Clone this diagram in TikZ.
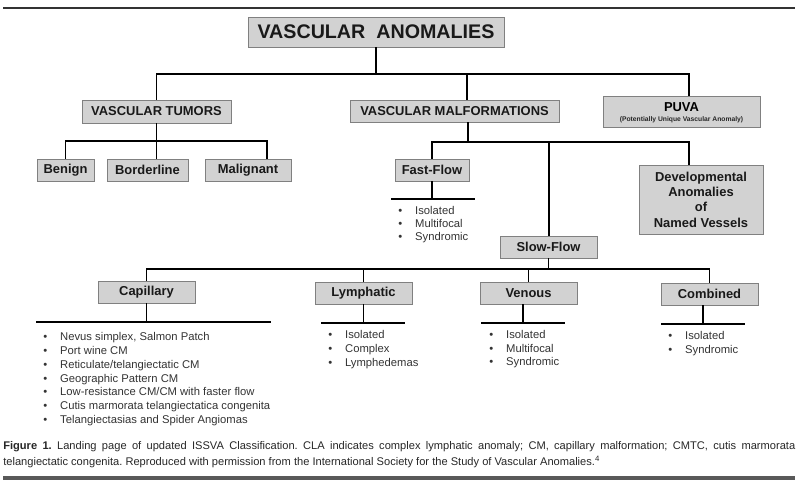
\documentclass[tikz,border=0pt]{standalone}
\usepackage{fontspec}
\setmainfont{Liberation Sans}
\usetikzlibrary{positioning}

\newcommand\itm[1]{\makebox[12pt][l]{\textbullet}#1}

\begin{document}
\begin{tikzpicture}[x=0.25mm, y=-0.25mm,
    box/.style={draw=gray, fill=gray!35, line width=0.7pt, inner sep=0pt,
      minimum width=24.25mm, minimum height=5.5mm, text=black!90,
      font=\bfseries\fontsize{9.2}{11}\selectfont},
    link/.style={line width=1.3pt},
    item/.style={anchor=base west, inner sep=0pt, text=black!80,
      font=\fontsize{8}{9.7}\selectfont}]

    \useasboundingbox (0,0) rectangle (800,485);
    \draw[line width=0.8pt, black!80] (3,8) -- (795,8);

    % Top level
    \node at (376,32) [box, minimum width=64mm, minimum height=7.5mm,
      font=\bfseries\fontsize{14}{17}\selectfont] (root) {VASCULAR\ \ ANOMALIES};
    \node at (156.5,111.5) [box, minimum width=37.25mm, minimum height=5.75mm] (tumors) {VASCULAR TUMORS};
    \node at (454.5,111) [box, minimum width=52.25mm] (malf) {VASCULAR MALFORMATIONS};
    \node at (681.5,111.5) [box, minimum width=39.25mm, minimum height=7.75mm] (puva) {};
    \node at (681.5,107) [font=\bfseries\fontsize{9.2}{11}\selectfont] (puvat) {PUVA};
    \node at (681.5,119.5) [font=\bfseries\fontsize{4.8}{6}\selectfont, text=black!85] (puvas) {(Potentially Unique Vascular Anomaly)};
    \coordinate (r1) at (156.5,74);
    \coordinate (r2) at (467,74);
    \coordinate (r3) at (689,74);
    \draw[link] (root.south) -- (root.south |- r1);
    \draw[link] (r1 |- tumors.north) -- (r1) -- (r3) -- (r3 |- puva.north);
    \draw[link] (r2) -- (r2 |- malf.north);

    % Tumors
    \node at (65.5,170) [box, minimum width=14.25mm] (benign) {Benign};
    \node at (147.5,170) [box, minimum width=20.25mm] (borderline) {Borderline};
    \node at (248,170) [box, minimum width=21.5mm] (malignant) {Malignant};
    \coordinate (t1) at (65.5,141);
    \coordinate (t2) at (156.5,141);
    \coordinate (t3) at (267,141);
    \draw[link] (tumors.south) -- (t2);
    \draw[link] (t1 |- benign.north) -- (t1) -- (t3) -- (t3 |- malignant.north);
    \draw[link] (t2) -- (t2 |- borderline.north);

    % Malformations
    \node at (432,170) [box, minimum width=18.5mm] (fast) {Fast-Flow};
    \node at (701,199.5) [box, minimum width=31mm, minimum height=17.25mm, align=center,
      font=\bfseries\fontsize{9.2}{10.9}\selectfont] (dev) {Developmental\\Anomalies\\of\\Named Vessels};
    \node at (548.5,247) [box] (slow) {Slow-Flow};
    \coordinate (m1) at (432,142);
    \coordinate (m2) at (468,142);
    \coordinate (m3) at (549,142);
    \coordinate (m4) at (689,142);
    \draw[link] (m2 |- malf.south) -- (m2);
    \draw[link] (fast.north) -- (m1) -- (m4) -- (m4 |- dev.north);
    \draw[link] (m3) -- (m3 |- slow.north);

    % Fast-flow list
    \coordinate (fl) at (391,199);
    \coordinate (fr) at (475,199);
    \draw[link] (fast.south) -- (fast.south |- fl);
    \draw[link] (fl) -- (fr);
    \foreach \t [count=\i] in {Isolated, Multifocal, Syndromic}
      \node[item] (ff\i) at (398,{215+13*(\i-1)}) {\itm{\t}};

    % Slow-flow
    \node at (146.5,292) [box] (capillary) {Capillary};
    \node at (363.5,293) [box] (lymphatic) {Lymphatic};
    \node at (528.5,293) [box] (venous) {Venous};
    \node at (709.5,294) [box] (combined) {Combined};
    \coordinate (s1) at (146.5,269);
    \coordinate (s2) at (363.5,269);
    \coordinate (s3) at (528.5,269);
    \coordinate (s4) at (709.5,269);
    \draw[link] (slow.south) -- (slow.south |- s1);
    \draw[link] (capillary.north) -- (s1) -- (s4) -- (combined.north);
    \draw[link] (s2) -- (lymphatic.north);
    \draw[link] (s3) -- (venous.north);

    % Capillary list
    \coordinate (cl) at (36,322);
    \coordinate (cr) at (271,322);
    \draw[link] (capillary.south) -- (capillary.south |- cl);
    \draw[link] (cl) -- (cr);
    \foreach \t [count=\i] in {{Nevus simplex, Salmon Patch}, Port wine CM,
        Reticulate/telangiectatic CM, Geographic Pattern CM,
        Low-resistance CM/CM with faster flow,
        Cutis marmorata telangiectatica congenita,
        Telangiectasias and Spider Angiomas}
      \node[item] (cap\i) at (43,{341+13.67*(\i-1)}) {\itm{\t}};

    % Lymphatic list
    \coordinate (ll) at (321,323);
    \coordinate (lr) at (405,323);
    \draw[link] (lymphatic.south) -- (lymphatic.south |- ll);
    \draw[link] (ll) -- (lr);
    \foreach \t [count=\i] in {Isolated, Complex, Lymphedemas}
      \node[item] (lym\i) at (328,{339+14*(\i-1)}) {\itm{\t}};

    % Venous list
    \coordinate (vl) at (481,323);
    \coordinate (vm) at (523,323);
    \coordinate (vr) at (565,323);
    \draw[link] (vm |- venous.south) -- (vm);
    \draw[link] (vl) -- (vr);
    \foreach \t [count=\i] in {Isolated, Multifocal, Syndromic}
      \node[item] (ven\i) at (489,{339+13.5*(\i-1)}) {\itm{\t}};

    % Combined list
    \coordinate (kl) at (661,324);
    \coordinate (km) at (703,324);
    \coordinate (kr) at (745,324);
    \draw[link] (km |- combined.south) -- (km);
    \draw[link] (kl) -- (kr);
    \foreach \t [count=\i] in {Isolated, Syndromic}
      \node[item] (com\i) at (668,{340+14*(\i-1)}) {\itm{\t}};

    % Caption
    \node[anchor=north west, inner sep=0pt, text width=198mm, align=justify,
      text=black!85, font=\frenchspacing\fontsize{7.9}{11.3}\selectfont] (caption) at (3,441)
      {\textbf{Figure 1.} Landing page of updated ISSVA Classification. CLA indicates complex lymphatic anomaly; CM, capillary malformation; CMTC, cutis marmorata\linebreak
      telangiectatic congenita. Reproduced with permission from the International Society for the Study of Vascular Anomalies.\textsuperscript{4}};
    \draw[line width=2.2pt, black!65] (3,478) -- (795,478);
\end{tikzpicture}
\end{document}
